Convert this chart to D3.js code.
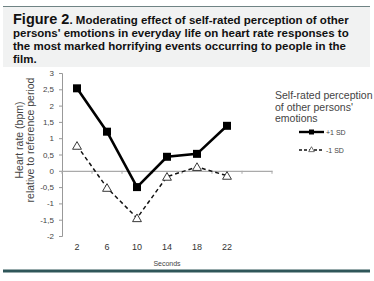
<!DOCTYPE html>
<html>
<head>
<meta charset="utf-8">
<script src="https://cdn.jsdelivr.net/npm/d3@7"></script>
<style>
  body { margin: 0; background: #fff; }
  svg { display: block; font-family: Arial, "Liberation Sans", sans-serif; }
</style>
</head>
<body>
<div id="chart"></div>
<script>
var seconds = ["2", "6", "10", "14", "18", "22", ""];
var plusSD = [2.53, 1.2, -0.5, 0.43, 0.52, 1.38];
var minusSD = [0.77, -0.52, -1.45, -0.18, 0.12, -0.15];
var yTicks = [-2, -1.5, -1, -0.5, 0, 0.5, 1, 1.5, 2, 2.5, 3];
var titleLines = [
  "persons' emotions in everyday life on heart rate responses to",
  "the most marked horrifying events occurring to people in the",
  "film."
];
var legendTitle = ["Self-rated perception", "of other persons'", "emotions"];
var seriesNames = ["+1 SD", "-1 SD"];

var W = 374, H = 281;
var svg = d3.select("#chart").append("svg")
  .attr("width", W).attr("height", H);

// title box
svg.append("rect").attr("x", 3).attr("y", 7).attr("width", 367).attr("height", 60)
  .attr("fill", "#f1f2f2");
svg.append("line").attr("x1", 3).attr("x2", 370).attr("y1", 6.5).attr("y2", 6.5)
  .attr("stroke", "#6f8384").attr("stroke-width", 1);

var t1 = svg.append("text").attr("x", 13).attr("y", 24).attr("fill", "#111")
  .attr("font-weight", "bold");
t1.append("tspan").attr("font-size", 14.5).text("Figure 2");
t1.append("tspan").attr("font-size", 11.5).text(". Moderating effect of self-rated perception of other");
svg.selectAll(".tl").data(titleLines).enter().append("text")
  .attr("class", "tl")
  .attr("x", 13)
  .attr("y", function(d, i) { return 37 + i * 13; })
  .attr("font-size", 11.5).attr("font-weight", "bold").attr("fill", "#111")
  .text(function(d) { return d; });

// bottom rule
svg.append("rect").attr("x", 3).attr("y", 269.5).attr("width", 367).attr("height", 3)
  .attr("fill", "#2f5659");

var x = d3.scaleBand().domain(seconds).range([62, 272]);
var y = d3.scaleLinear().domain([-2, 3]).range([236, 73]);

var g = svg.append("g");

// y axis
var yAxis = g.append("g").attr("transform", "translate(62,0)")
  .call(d3.axisLeft(y).tickValues(yTicks).tickSize(3).tickPadding(5)
    .tickFormat(function(d) { return String(d).replace(".", ","); }));
yAxis.select(".domain").attr("stroke", "#999");
yAxis.selectAll(".tick line").attr("stroke", "#999");
yAxis.selectAll(".tick text").attr("font-size", 8).attr("fill", "#444")
  .attr("font-family", "Arial, Liberation Sans, sans-serif");

// zero line as x axis
var xAxis = g.append("g").attr("transform", "translate(0," + y(0) + ")")
  .call(d3.axisBottom(x).tickSize(0).tickFormat(""));
xAxis.select(".domain").attr("stroke", "#aaa").attr("stroke-width", 1.3);
g.selectAll(".xt").data(d3.range(seconds.length + 1)).enter().append("line")
  .attr("class", "xt")
  .attr("x1", function(i) { return x.range()[0] + i * x.bandwidth(); })
  .attr("x2", function(i) { return x.range()[0] + i * x.bandwidth(); })
  .attr("y1", y(0)).attr("y2", y(0) + 3)
  .attr("stroke", "#aaa");

// x labels at bottom
g.selectAll(".xl").data(seconds.filter(function(d) { return d; })).enter().append("text")
  .attr("class", "xl")
  .attr("x", function(d) { return x(d) + x.bandwidth() / 2; })
  .attr("y", 250)
  .attr("text-anchor", "middle").attr("font-size", 9).attr("fill", "#333")
  .text(function(d) { return d; });

svg.append("text").attr("x", 167).attr("y", 266).attr("text-anchor", "middle")
  .attr("font-size", 7).attr("fill", "#444").text("Seconds");

// y title
var yt = svg.append("text").attr("transform", "translate(0,140) rotate(-90)")
  .attr("text-anchor", "middle").attr("font-size", 10.5).attr("fill", "#444");
yt.append("tspan").attr("x", 0).attr("y", 23).text("Heart rate (bpm)");
yt.append("tspan").attr("x", 0).attr("y", 34).text("relative to reference period");

// lines
function cx(i) { return x(seconds[i]) + x.bandwidth() / 2; }
var line = d3.line()
  .x(function(d, i) { return cx(i); })
  .y(function(d) { return y(d); });

g.append("path").datum(minusSD).attr("d", line)
  .attr("fill", "none").attr("stroke", "#111").attr("stroke-width", 1.5)
  .attr("stroke-dasharray", "4,3");
g.append("path").datum(plusSD).attr("d", line)
  .attr("fill", "none").attr("stroke", "#000").attr("stroke-width", 2.6);

var tri = d3.symbol().type(d3.symbolTriangle).size(34);
g.selectAll(".tri").data(minusSD).enter().append("path")
  .attr("class", "tri")
  .attr("d", tri)
  .attr("transform", function(d, i) { return "translate(" + cx(i) + "," + (y(d) + 1) + ")"; })
  .attr("fill", "#fff").attr("stroke", "#222").attr("stroke-width", 0.9);

g.selectAll(".sq").data(plusSD).enter().append("rect")
  .attr("class", "sq")
  .attr("x", function(d, i) { return cx(i) - 4; })
  .attr("y", function(d) { return y(d) - 4; })
  .attr("width", 8).attr("height", 8).attr("fill", "#000");

// legend
svg.selectAll(".lt").data(legendTitle).enter().append("text")
  .attr("class", "lt")
  .attr("x", 275)
  .attr("y", function(d, i) { return 99 + i * 11.5; })
  .attr("font-size", 10.5).attr("fill", "#444")
  .text(function(d) { return d; });

var lg = svg.append("g");
lg.append("line").attr("x1", 299).attr("x2", 324).attr("y1", 132).attr("y2", 132)
  .attr("stroke", "#000").attr("stroke-width", 2.4);
lg.append("rect").attr("x", 309).attr("y", 129.5).attr("width", 5).attr("height", 5).attr("fill", "#000");
lg.append("line").attr("x1", 299).attr("x2", 324).attr("y1", 150).attr("y2", 150)
  .attr("stroke", "#111").attr("stroke-width", 1.3).attr("stroke-dasharray", "3,2");
lg.append("path").attr("d", d3.symbol().type(d3.symbolTriangle).size(14))
  .attr("transform", "translate(311.5,150)")
  .attr("fill", "#fff").attr("stroke", "#333").attr("stroke-width", 0.7);
lg.selectAll(".ln").data(seriesNames).enter().append("text")
  .attr("class", "ln")
  .attr("x", 326)
  .attr("y", function(d, i) { return 134.5 + i * 18; })
  .attr("font-size", 7).attr("fill", "#444")
  .text(function(d) { return d; });
</script>
</body>
</html>
